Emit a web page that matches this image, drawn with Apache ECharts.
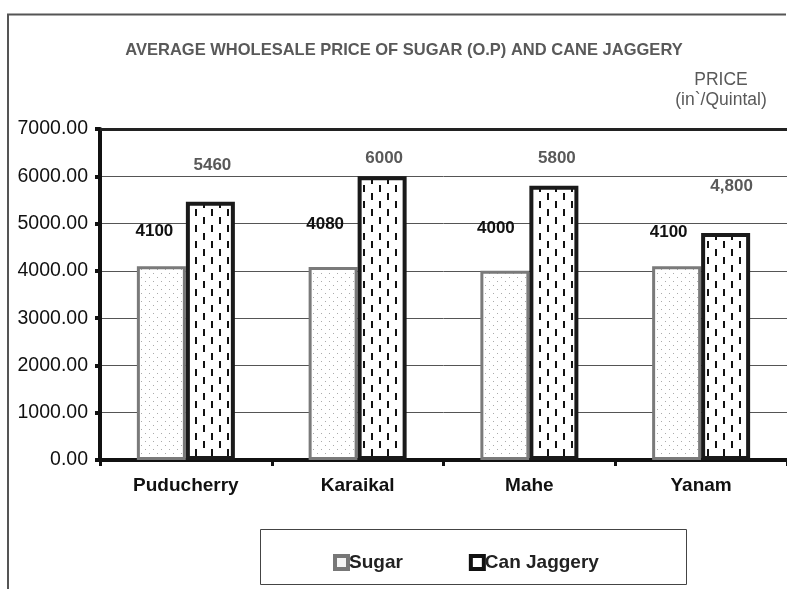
<!DOCTYPE html>
<html><head><meta charset="utf-8">
<script src="https://cdn.jsdelivr.net/npm/echarts@6/dist/echarts.min.js"></script>
<style>html,body{margin:0;padding:0;background:#fff}#c{width:787px;height:589px}</style>
</head><body><div id="c"></div>
<script>
const categories = ['Puducherry', 'Karaikal', 'Mahe', 'Yanam'];
const sugar = [4100, 4080, 4000, 4100];
const jaggery = [5460, 6000, 5800, 4800];
const sugarLabels = ['4100', '4080', '4000', '4100'];
const jaggeryLabels = ['5460', '6000', '5800', '4,800'];
const yTicks = [0, 1000, 2000, 3000, 4000, 5000, 6000, 7000];

// label placement (layout only)
const sugarLabelDist = [26, 34, 34, 25];
const sugarLabelDx = [-7, -8, -9, -8];
const jagLabelDist = [28, 9, 19, 38];
const jagLabelDx = [2, 2, 3, 6];

function dotPattern() {
  const c = document.createElement('canvas'); c.width = 8; c.height = 8;
  const g = c.getContext('2d'); g.fillStyle = '#fff'; g.fillRect(0, 0, 8, 8);
  g.fillStyle = '#aaa'; g.fillRect(1, 1, 1, 1); g.fillRect(5, 5, 1, 1);
  return c;
}
function dashPattern() {
  const c = document.createElement('canvas'); c.width = 16; c.height = 16;
  const g = c.getContext('2d'); g.fillStyle = '#fff'; g.fillRect(0, 0, 16, 16);
  g.fillStyle = '#111'; g.fillRect(3, 1, 2, 7); g.fillRect(11, 9, 2, 7);
  return c;
}

const chart = echarts.init(document.getElementById('c'), null, {renderer: 'canvas'});
const font = 'Liberation Sans, Arial, sans-serif';
chart.setOption({
  animation: false,
  textStyle: {fontFamily: font},
  title: {
    text: 'AVERAGE WHOLESALE PRICE OF SUGAR (O.P) AND CANE JAGGERY',
    left: 399, textAlign: 'center', top: 37,
    textStyle: {fontSize: 16.5, fontWeight: 'bold', color: '#595959', fontFamily: font}
  },
  graphic: [
    {type: 'polyline', shape: {points: [[8, 589], [8, 14.5], [786, 14.5]]}, style: {stroke: '#555', lineWidth: 2, fill: null}},
    {type: 'rect', shape: {x: 260.5, y: 529.5, width: 426, height: 55}, style: {stroke: '#444', lineWidth: 1, fill: null}},
    {type: 'text', x: 721, y: 70, style: {text: 'PRICE\n(in`/Quintal)', align: 'center', fontSize: 17.5, lineHeight: 20, fill: '#595959', fontFamily: font}}
  ],
  legend: {
    left: 328, top: 548, itemGap: 66, itemWidth: 13, itemHeight: 13, icon: 'rect',
    textStyle: {fontSize: 19, fontWeight: 'bold', color: '#222', fontFamily: font, padding: [0, 0, 0, -4]},
    data: [
      {name: 'Sugar', itemStyle: {color: '#f4f4f4', borderColor: '#777', borderWidth: 4}},
      {name: 'Can Jaggery', itemStyle: {color: '#fff', borderColor: '#111', borderWidth: 4}}
    ]
  },
  grid: {left: 100, right: 0, top: 129, bottom: 129},
  xAxis: [{
    type: 'category', data: categories, position: 'bottom',
    axisLine: {lineStyle: {color: '#111', width: 4}},
    axisTick: {show: true, length: 6, lineStyle: {color: '#111', width: 3}},
    axisLabel: {fontSize: 19, fontWeight: 'bold', color: '#111', margin: 16, fontFamily: font}
  }, {
    type: 'category', data: categories, position: 'top',
    axisLine: {lineStyle: {color: '#222', width: 3}},
    axisTick: {show: false}, axisLabel: {show: false}
  }],
  yAxis: {
    type: 'value', min: yTicks[0], max: yTicks[yTicks.length - 1], interval: 1000,
    axisLine: {show: true, lineStyle: {color: '#111', width: 4}},
    axisTick: {show: true, length: 5, lineStyle: {color: '#111', width: 4}},
    axisLabel: {fontSize: 19.5, color: '#111', margin: 12, formatter: v => v.toFixed(2), fontFamily: font},
    splitLine: {lineStyle: {color: '#555', width: 1}}
  },
  series: [{
    name: 'Sugar', type: 'bar', barWidth: 49, barGap: '0%',
    data: sugar.map((v, i) => ({
      value: v,
      label: {show: true, position: 'top', distance: sugarLabelDist[i], offset: [sugarLabelDx[i], 0],
        formatter: sugarLabels[i], fontSize: 17, fontWeight: 'bold', color: '#111', fontFamily: font}
    })),
    itemStyle: {color: {image: dotPattern(), repeat: 'repeat'}, borderColor: '#7a7a7a', borderWidth: 3}
  }, {
    name: 'Can Jaggery', type: 'bar', barWidth: 49,
    data: jaggery.map((v, i) => ({
      value: v,
      label: {show: true, position: 'top', distance: jagLabelDist[i], offset: [jagLabelDx[i], 0],
        formatter: jaggeryLabels[i], fontSize: 17, fontWeight: 'bold', color: '#595959', fontFamily: font}
    })),
    itemStyle: {color: {image: dashPattern(), repeat: 'repeat'}, borderColor: '#1a1a1a', borderWidth: 4}
  }]
});
</script></body></html>
